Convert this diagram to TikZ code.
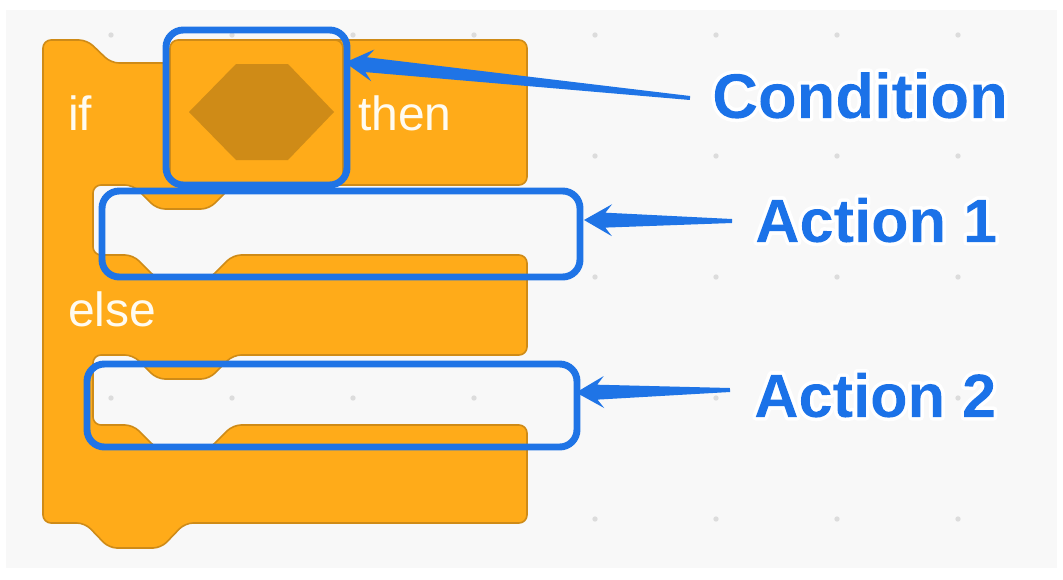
\documentclass[tikz,border=0pt]{standalone}
\usepackage{fontspec}
\setmainfont{Liberation Sans}
\usetikzlibrary{calc}
\definecolor{bg}{HTML}{F8F8F8}
\definecolor{blockfill}{HTML}{FFAB19}
\definecolor{blockline}{HTML}{CF8B17}
\definecolor{hexfill}{HTML}{CF8B17}
\definecolor{hlblue}{HTML}{1F74E6}
\definecolor{labelblue}{HTML}{1B72E8}
\definecolor{dotgray}{HTML}{DCDCDC}
\definecolor{blocktext}{HTML}{FFFBF0}
% one copy of the text: stroked white and used as a clip, then filled blue through the clip
\newcommand\outlinetext[1]{\special{pdf:literal q Q}\special{pdf:literal direct q 1 1 1 RG 5.5 w 1 j 5 Tr}#1\special{pdf:literal q Q}\special{pdf:literal direct 0 Tr 0.106 0.447 0.910 rg -5000 -5000 10000 10000 re f Q}}
\newcommand\skarrow[2]{\fill[hlblue] (#1) -- ($(#1)!21pt!(#2)!12pt!90:(#2)$) -- ($(#1)!16pt!(#2)!5.6pt!90:(#2)$) -- ($(#2)!1.5pt!-90:(#1)$) -- ($(#2)!1.5pt!90:(#1)$) -- ($(#1)!16pt!(#2)!5.6pt!-90:(#2)$) -- ($(#1)!21pt!(#2)!12pt!-90:(#2)$) -- cycle;}
\begin{document}
\begin{tikzpicture}[x=0.75pt,y=-0.75pt,
  blockpart/.style={fill=blockfill,draw=blockline,line width=1.2pt,rounded corners=6pt},
  hl/.style={draw=hlblue,line width=5.2pt,rounded corners=13pt,fill=none,inner sep=0pt,outer sep=0pt},
  blocklabel/.style={text=blocktext,font=\fontsize{36pt}{40pt}\selectfont,anchor=base west,inner sep=0pt},
  callout/.style={text=labelblue,font=\bfseries\fontsize{46pt}{50pt}\selectfont,anchor=base west,inner sep=0pt}]
\useasboundingbox (0,0) rectangle (1063,579);
\fill[white] (0,0) rectangle (1063,579);
\fill[bg] (6,10) rectangle (1057,568);
\foreach \x in {111,232,...,958} \foreach \y in {35,156,...,519} \fill[dotgray] (\x,\y) circle (2pt);
% block
\draw[blockpart] (43,40) -- (87,40) -- (111,63) -- (174,63) -- (198,40) -- (527,40) -- (527,185)
 -- (233,185) -- (209,209) -- (157,209) -- (133,185) -- (93,185) -- (93,255)
 -- (133,255) -- (157,279) -- (209,279) -- (233,255) -- (527,255) -- (527,355)
 -- (233,355) -- (209,379) -- (157,379) -- (133,355) -- (93,355) -- (93,425)
 -- (133,425) -- (157,449) -- (209,449) -- (233,425) -- (527,425) -- (527,523)
 -- (185,523) -- (161,548) -- (109,548) -- (85,523) -- (43,523) -- cycle;
\draw[blockpart] (170,40) rectangle (343,183);
\fill[hexfill] (189,112) -- (236,64) -- (288,64) -- (334,112) -- (288,160) -- (236,160) -- cycle;
\node[blocklabel] (iftext) at (68,130) {if};
\node[blocklabel] (thentext) at (358,130) {then};
\node[blocklabel] (elsetext) at (68,326) {else};
% highlights
\node[hl,minimum width=135.75pt,minimum height=116.25pt] (cbox) at (256.5,107.5) {};
\node[hl,minimum width=358.5pt,minimum height=64.5pt] (abox1) at (341,234) {};
\node[hl,minimum width=367.5pt,minimum height=62.25pt] (abox2) at (332,405.5) {};
% labels
\node[callout,font=\bfseries\fontsize{47.5pt}{52pt}\selectfont] (lcond) at (712,118) {\outlinetext{Condition}};
\node[callout] (lact1) at (755,242) {\outlinetext{Action 1}};
\node[callout] (lact2) at (754,417) {\outlinetext{Action 2}};
% arrows
\coordinate (ctip) at ([shift={(-2,-45)}]cbox.east);
\coordinate (ctail) at ([shift={(-22,-20)}]lcond.base west);
\coordinate (a1tip) at ([shift={(4,-14)}]abox1.east);
\coordinate (a1tail) at ([shift={(-23,-21)}]lact1.base west);
\coordinate (a2tip) at ([shift={(-1,-13)}]abox2.east);
\coordinate (a2tail) at ([shift={(-24,-27)}]lact2.base west);
\skarrow{ctip}{ctail}
\skarrow{a1tip}{a1tail}
\skarrow{a2tip}{a2tail}
\end{tikzpicture}
\end{document}
